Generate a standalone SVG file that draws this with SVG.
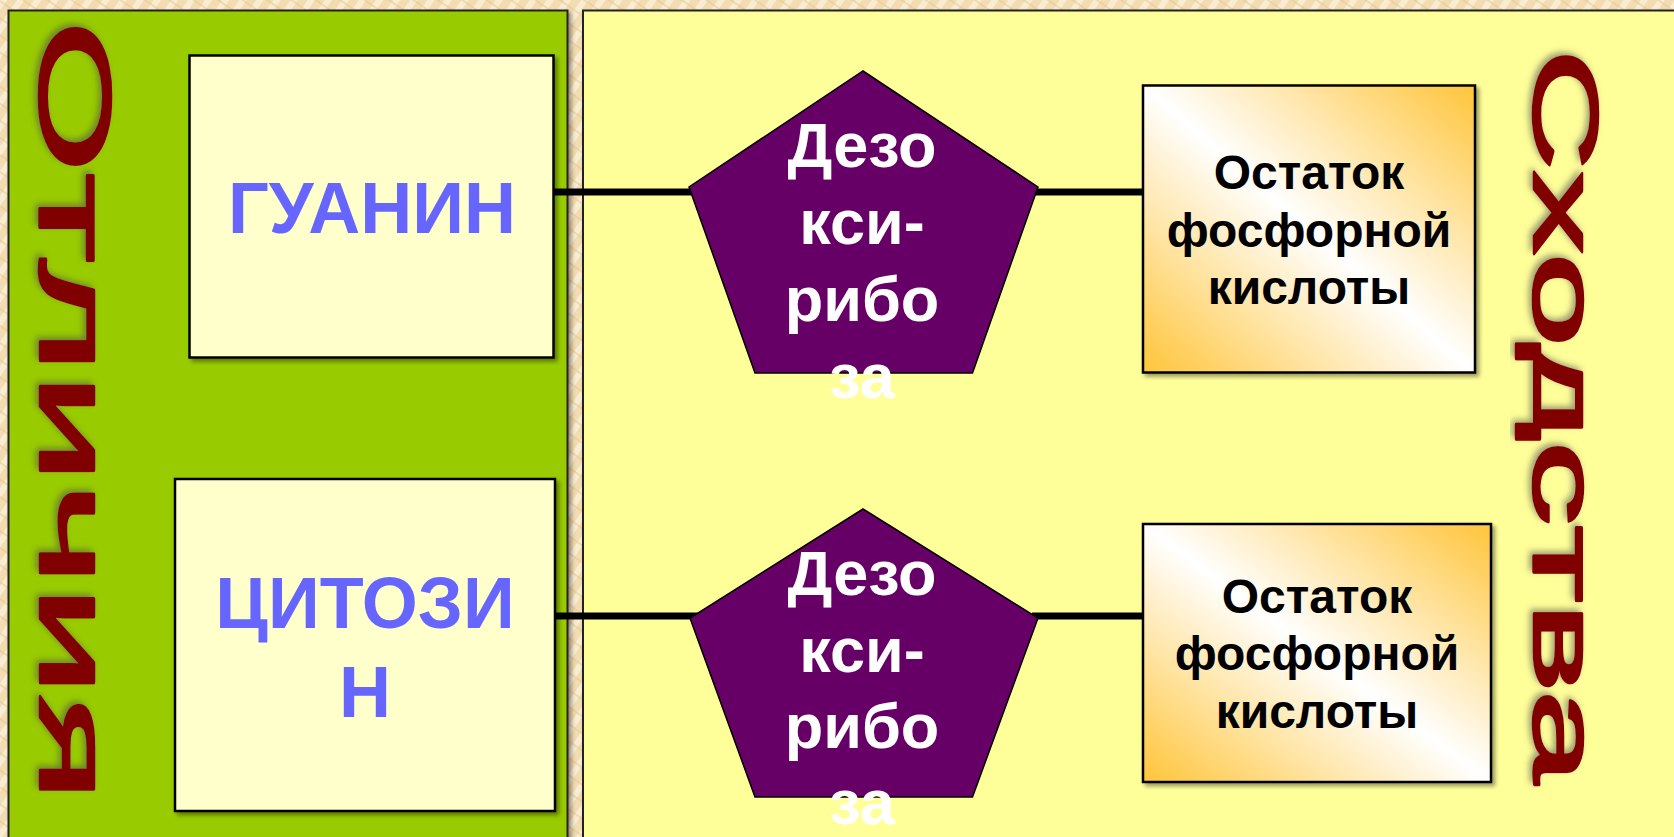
<svg xmlns="http://www.w3.org/2000/svg" width="1674" height="837" viewBox="0 0 1674 837">
  <defs>
    <!-- woven beige backdrop -->
    <pattern id="weave" width="14" height="14" patternUnits="userSpaceOnUse" patternTransform="rotate(35)">
      <rect width="14" height="14" fill="#F2DDB2"/>
      <rect width="6" height="14" fill="#FAECD2"/>
      <rect width="14" height="1.6" fill="#E4C68E" opacity="0.6"/>
    </pattern>
    <linearGradient id="gold" x1="0" y1="1" x2="1" y2="0">
      <stop offset="0" stop-color="#FFC53A"/>
      <stop offset="0.5" stop-color="#FFFFFF"/>
      <stop offset="1" stop-color="#FFC53A"/>
    </linearGradient>
    <filter id="drop" x="-5%" y="-5%" width="115%" height="115%">
      <feGaussianBlur in="SourceAlpha" stdDeviation="2"/>
      <feOffset dx="3" dy="3" result="b"/>
      <feComponentTransfer><feFuncA type="linear" slope="0.4"/></feComponentTransfer>
      <feMerge><feMergeNode/><feMergeNode in="SourceGraphic"/></feMerge>
    </filter>
    <filter id="glow" x="-20%" y="-5%" width="140%" height="110%">
      <feGaussianBlur in="SourceAlpha" stdDeviation="3"/>
      <feOffset dx="-3" dy="3" result="b"/>
      <feFlood flood-color="#4a4a4a" flood-opacity="0.55"/>
      <feComposite in2="b" operator="in"/>
      <feMerge><feMergeNode/><feMergeNode in="SourceGraphic"/></feMerge>
    </filter>
    <style>
      .panel { stroke: #222; stroke-width: 2; }
      .base { fill: #FFFFCC; stroke: #000; stroke-width: 2.5; }
      .acid { fill: url(#gold); stroke: #000; stroke-width: 2.5; }
      .sugar { fill: #660066; stroke: #000; stroke-width: 1.5; }
      .link { stroke: #000; stroke-width: 7; fill: none; }
      text { font-family: "Liberation Sans", Arial, sans-serif; font-weight: bold; text-anchor: middle; }
      .baseT { font-size: 72px; fill: #6666FF; }
      .sugarT { font-size: 63px; fill: #FFFFFF; }
      .acidT { font-size: 48px; fill: #000; }
      .vert { font-size: 102px; font-weight: normal; fill: #800000; stroke: #800000; stroke-width: 2.5; stroke-linejoin: round; text-anchor: start; }
    </style>
  </defs>

  <!-- backdrop -->
  <rect width="1674" height="837" fill="url(#weave)"/>

  <!-- differences column (green) and similarities area (yellow) -->
  <g id="panel-diff">
    <rect class="panel" x="8.5" y="10.5" width="559" height="840" fill="#99CC00" filter="url(#drop)"/>
    <text class="vert" transform="translate(40,20) rotate(90)" textLength="782" lengthAdjust="spacingAndGlyphs" filter="url(#glow)">Отличия</text>
  </g>
  <g id="panel-same">
    <rect class="panel" x="583" y="10.5" width="1100" height="840" fill="#FFFF99" filter="url(#drop)"/>
    <text class="vert" style="font-size:90px" transform="translate(1534,49) rotate(90)" textLength="735" lengthAdjust="spacingAndGlyphs" filter="url(#glow)">Сходства</text>
  </g>

  <!-- bonds -->
  <g id="connectors">
    <line class="link" x1="554" y1="192" x2="695" y2="192"/>
    <line class="link" x1="1032" y1="192" x2="1143" y2="192"/>
    <line class="link" x1="555" y1="616" x2="702" y2="616"/>
    <line class="link" x1="1032" y1="616" x2="1148" y2="616"/>
  </g>

  <g id="guanine">
    <rect class="base" x="189.5" y="55.5" width="364" height="302" filter="url(#drop)"/>
    <text class="baseT" x="372" y="233">ГУАНИН</text>
  </g>

  <g id="cytosine">
    <rect class="base" x="175" y="479" width="380" height="332" filter="url(#drop)"/>
    <text class="baseT" x="365" y="628">ЦИТОЗИ</text>
    <text class="baseT" x="365" y="717">Н</text>
  </g>

  <g id="sugar-top">
    <polygon class="sugar" points="863,71 1038,187 972.5,373 755,373 689,187"/>
    <text class="sugarT" x="862" y="167">Дезо</text>
    <text class="sugarT" x="862" y="244">кси-</text>
    <text class="sugarT" x="862" y="321">рибо</text>
    <text class="sugarT" x="862" y="398">за</text>
  </g>

  <g id="sugar-bottom">
    <polygon class="sugar" points="863,509 1038,618 972.5,797 755,797 690,618"/>
    <text class="sugarT" x="862" y="595">Дезо</text>
    <text class="sugarT" x="862" y="672">кси-</text>
    <text class="sugarT" x="862" y="748">рибо</text>
    <text class="sugarT" x="862" y="824">за</text>
  </g>

  <g id="phosphate-top">
    <rect class="acid" x="1143" y="85.5" width="332" height="287" filter="url(#drop)"/>
    <text class="acidT" x="1309" y="189">Остаток</text>
    <text class="acidT" x="1309" y="247">фосфорной</text>
    <text class="acidT" x="1309" y="304">кислоты</text>
  </g>

  <g id="phosphate-bottom">
    <rect class="acid" x="1143" y="524" width="348" height="258" filter="url(#drop)"/>
    <text class="acidT" x="1317" y="613">Остаток</text>
    <text class="acidT" x="1317" y="670">фосфорной</text>
    <text class="acidT" x="1317" y="728">кислоты</text>
  </g>
</svg>
